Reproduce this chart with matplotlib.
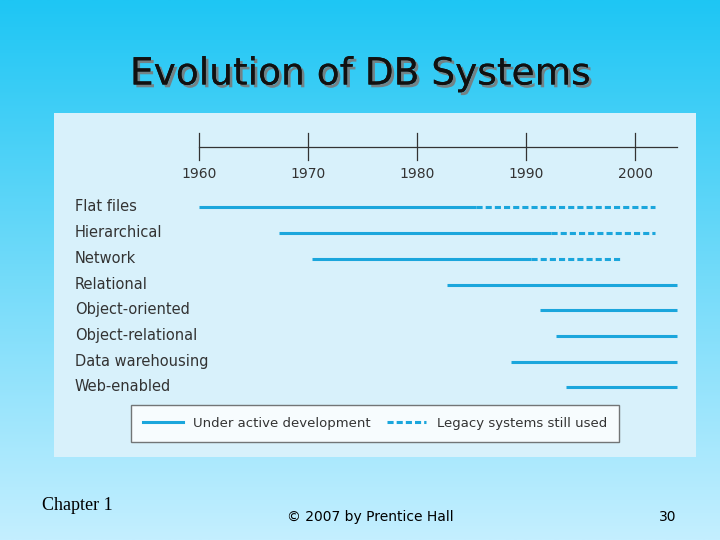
import matplotlib.pyplot as plt
import matplotlib.patheffects as pe
import numpy as np
from matplotlib.lines import Line2D

categories = ["Flat files", "Hierarchical", "Network", "Relational", "Object-oriented",
              "Object-relational", "Data warehousing", "Web-enabled"]
active_start = [1960.0, 1967.3, 1970.4, 1982.7, 1991.3, 1992.7, 1988.6, 1993.7]
active_end = [1985.4, 1992.3, 1990.4, 2003.8, 2003.8, 2003.8, 2003.8, 2003.8]
legacy_end = [2001.8, 2001.8, 1998.8, None, None, None, None, None]
years = [1960, 1970, 1980, 1990, 2000]

line_color = "#1ba6dc"

fig = plt.figure(figsize=(7.2, 5.4), dpi=100)

# slide background gradient
bg = fig.add_axes([0, 0, 1, 1])
grad = np.linspace(0, 1, 256).reshape(-1, 1)
top = np.array([0x1e, 0xc6, 0xf4]) / 255
bottom = np.array([0xc4, 0xef, 0xff]) / 255
img = top + (bottom - top) * grad[:, :, None]
bg.imshow(img, aspect="auto", extent=[0, 1, 0, 1])
bg.set_axis_off()

fig.text(0.5, 0.862, "Evolution of DB Systems", ha="center", va="center", fontsize=27, color="#111111",
         path_effects=[pe.withSimplePatchShadow(offset=(2, -2), shadow_rgbFace="#7a7a7a", alpha=0.9), pe.Normal()])
fig.text(0.058, 0.055, "Chapter 1", fontfamily="Liberation Serif", fontsize=13)
fig.text(0.514, 0.036, "© 2007 by Prentice Hall", ha="center", fontsize=10)
fig.text(0.94, 0.036, "30", ha="right", fontsize=10)

# chart panel, y measured downward
ax = fig.add_axes([0.075, 0.154, 0.892, 0.637])
ax.set_facecolor("#d8f1fb")
ax.set_xlim(1946.7, 2005.6)
ax.set_ylim(457, 113)
for s in ax.spines.values():
    s.set_visible(False)
ax.set_xticks([])
ax.set_yticks([])

rows = [207, 233, 259, 285, 310, 336, 362, 387]

ax.plot([1960, 2003.8], [147, 147], color="#333333", lw=0.9)
for yr in years:
    ax.plot([yr, yr], [133, 160], color="#333333", lw=0.9)
    ax.text(yr, 174, str(yr), ha="center", va="center", fontsize=10, color="#333333")

for name, y, s, e, le in zip(categories, rows, active_start, active_end, legacy_end):
    ax.text(1948.6, y, name, ha="left", va="center", fontsize=10.5, color="#333333")
    ax.plot([s, e], [y, y], color=line_color, lw=2.2, solid_capstyle="butt")
    if le is not None:
        ax.plot([e, le], [y, y], color=line_color, lw=2.2, linestyle=(0, (2, 1)))

handles = [Line2D([], [], color=line_color, lw=2.2),
           Line2D([], [], color=line_color, lw=2.2, linestyle=(0, (2, 1)))]
leg = ax.legend(handles, ["Under active development", "Legacy systems still used"],
                ncol=2, loc="lower center", bbox_to_anchor=(0.5, 0.025), fontsize=9.5,
                frameon=True, fancybox=False, columnspacing=1.2, handlelength=3,
                borderpad=0.9, labelcolor="#333333")
leg.get_frame().set_edgecolor("#555555")
leg.get_frame().set_facecolor("white")

fig.savefig("out.png", dpi=100)
